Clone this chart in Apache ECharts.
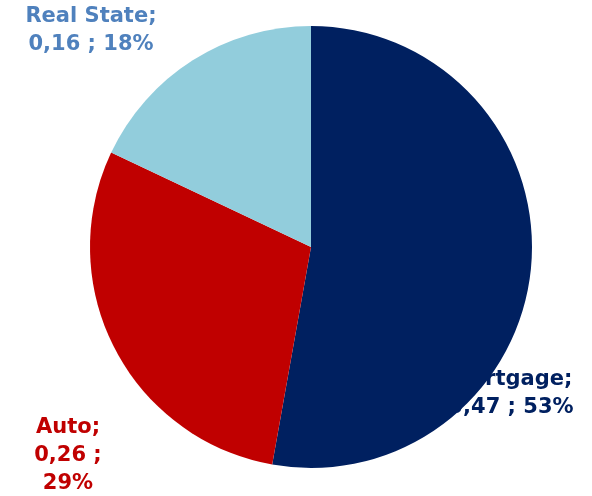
<!DOCTYPE html>
<html>
<head>
<meta charset="utf-8">
<script src="https://cdn.jsdelivr.net/npm/echarts@6/dist/echarts.min.js"></script>
<style>
  html, body { margin: 0; padding: 0; background: #fff; }
  #chart { width: 592px; height: 496px; }
</style>
</head>
<body>
<div id="chart"></div>
<script>
const categories = ['Mortgage', 'Auto', 'Real State']
const values = [0.47, 0.26, 0.16]
const percents = [53, 29, 18]
const sliceColors = ['#002060', '#c00000', '#92cddc']
const labelColors = ['#002060', '#c00000', '#4f81bd']

const fontFamily = '"DejaVu Sans", sans-serif'

function fmt(v) {
  return v.toFixed(2).replace('.', ',')
}

// label text for each slice, lines as in the original
const labelText = [
  categories[0] + ';\n' + fmt(values[0]) + ' ; ' + percents[0] + '%',
  categories[1] + ';\n' + fmt(values[1]) + ' ;\n' + percents[1] + '%',
  categories[2] + ';\n' + fmt(values[2]) + ' ; ' + percents[2] + '%'
]
const labelPos = [[511, 394], [68, 456], [91, 31]]

const chart = echarts.init(document.getElementById('chart'))

chart.setOption({
  animation: false,
  graphic: labelText.map((t, i) => ({
    type: 'text',
    z: 0,
    x: labelPos[i][0],
    y: labelPos[i][1],
    style: {
      text: t,
      fill: labelColors[i],
      font: 'bold 21px ' + fontFamily,
      lineHeight: 28,
      align: 'center',
      verticalAlign: 'middle'
    }
  })),
  series: [
    {
      type: 'pie',
      z: 2,
      center: [311, 247],
      radius: [0, 221],
      startAngle: 90,
      clockwise: true,
      label: { show: false },
      labelLine: { show: false },
      itemStyle: { borderWidth: 0 },
      data: categories.map((c, i) => ({
        name: c,
        value: values[i],
        itemStyle: { color: sliceColors[i] }
      }))
    }
  ]
})
</script>
</body>
</html>
